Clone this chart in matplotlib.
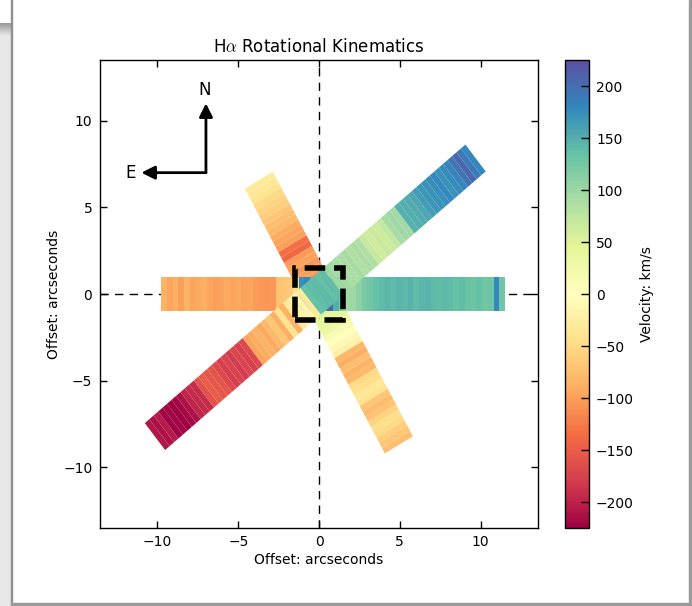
import numpy as np
import matplotlib
matplotlib.use("Agg")
import matplotlib.pyplot as plt
from matplotlib.patches import Rectangle
from matplotlib.collections import PatchCollection
from matplotlib.colors import Normalize
from matplotlib.transforms import Affine2D

plt.rcParams["mathtext.fontset"] = "cm"

# ---------------------------------------------------------------------------
# Line-of-sight velocities (km/s) in each slit, ordered along the slit axis
# ---------------------------------------------------------------------------
# E-W slit, from the east (left) end to the west (right) end
vel_ew = [-85, -95, -88, -100, -86, -95, -92, -88, -95, -100,
          -98, -92, -96, -92, -98, -95, -102, -105, -106, -104,
          -72, -70, -65, -45, 175, 178, 150, 140, 160, 205,
          150, 120, 95, 100, 110, 122, 128, 135, 140, 143,
          140, 145, 142, 146, 140, 143, 145, 140, 138, 142,
          140, 135, 138, 132, 130, 134, 128, 130, 178, 128]

# NE-SW slit, from the south-west end to the north-east end
vel_ne = [-208, -212, -205,
          -222, -220, -224, -218, -212,
          -198, -195, -192,
          -160, -150, -155, -158, -170,
          -178, -175, -180, -172, -176, -170,
          -95, -90, -85, -92,
          -80, -70, -88,
          -40, -85, -30,
          -20, -15, -30,
          135, 138, 140, 136, 138,
          100, 95, 90, 88, 92, 86, 90, 85,
          70, 62, 68, 64, 72,
          92, 98, 95,
          148, 150, 152, 155,
          165, 170, 172, 175, 178, 172, 176,
          182, 195, 205, 190, 180]

# NW-SE slit, from the south-east end to the north-west end
vel_nw = [-75, -70, -60,
          -50, -45, -55,
          -72, -78, -70,
          -40, -35, -45, -50,
          -80, -85, -75, -88, -82,
          -20, -10, 0,
          15, 30, 40, 45,
          50, 60, 70, 20,
          -100, -100, -105,
          -100, -105, -98, -102,
          -140, -135,
          -100, -95, -90,
          -80, -75, -70,
          -60, -55, -50,
          -40, -35, -30]

axis_ticks = [-10, -5, 0, 5, 10]
cbar_ticks = [-200, -150, -100, -50, 0, 50, 100, 150, 200]

# slit geometry: (angle of slit axis in degrees, start offset, end offset)
SLIT_WIDTH = 2.0
slit_layout = [
    (119.6, -10.01, 7.55, vel_nw),
    (0.0, -9.78, 11.52, vel_ew),
    (39.0, -13.07, 12.47, vel_ne),
]

W, H = 692, 606
fig = plt.figure(figsize=(W / 100, H / 100), dpi=100, facecolor="white")


def fx(px):
    return px / W


def fy(py):
    return 1 - py / H


# window frame around the plot
strip = fig.add_axes([0, 0, fx(10.5), (H - 23) / H])
grad = np.concatenate([np.linspace(0.60, 0.88, 12), np.full(571, 0.91)])
strip.imshow(grad[:, None], cmap="gray", vmin=0, vmax=1, aspect="auto",
             interpolation="bilinear")
strip.set_axis_off()
for rect in [
    Rectangle((fx(10.5), 0), fx(1.8), 1, color="#909090"),
    Rectangle((fx(689.2), 0), fx(2.8), 1, color="#9a9a9a"),
    Rectangle((fx(10.5), 0), fx(679), 3.0 / H, color="#9a9a9a"),
]:
    rect.set_transform(fig.transFigure)
    fig.add_artist(rect)

ax = fig.add_axes([fx(100), fy(528), fx(538) - fx(100), fy(60) - fy(528)])
norm = Normalize(vmin=-225, vmax=225)

# reference cross through the nucleus
ax.axhline(0, color="k", lw=1, dashes=(6, 4.5), zorder=1)
ax.axvline(0, color="k", lw=1, dashes=(6, 4.5), zorder=1)

mappable = None
for k, (angle, s0, s1, vel) in enumerate(slit_layout):
    edges = np.linspace(s0, s1, len(vel) + 1)
    rects = [Rectangle((edges[i], -SLIT_WIDTH / 2), edges[i + 1] - edges[i],
                       SLIT_WIDTH) for i in range(len(vel))]
    pc = PatchCollection(rects, cmap="Spectral", norm=norm,
                         edgecolor="none", zorder=2 + k)
    pc.set_transform(Affine2D().rotate_deg(angle) + ax.transData)
    pc.set_array(np.asarray(vel, dtype=float))
    ax.add_collection(pc)
    mappable = pc

# nuclear aperture
box = Rectangle((-1.5, -1.5), 3, 3, fill=False, ec="k", lw=4, zorder=6)
box.set_linestyle((0, (3.7, 1.6)))
ax.add_patch(box)

# compass
for tip in [(-7.0, 11.0), (-11.0, 7.0)]:
    ax.annotate("", xy=tip, xytext=(-7.0, 7.0),
                arrowprops=dict(arrowstyle="-|>", lw=2, color="k",
                                mutation_scale=20, shrinkA=0, shrinkB=0),
                zorder=7)
ax.text(-7.06, 11.75, "N", fontsize=12, ha="center", va="center")
ax.text(-11.64, 7.0, "E", fontsize=12, ha="center", va="center")

ax.set_xlim(-13.56, 13.56)
ax.set_ylim(-13.5, 13.5)
ax.set_xticks(axis_ticks)
ax.set_yticks(axis_ticks)
ax.tick_params(direction="in", length=5, width=1, top=True, right=True,
               labelsize=10)
ax.tick_params(axis="x", pad=5)
ax.tick_params(axis="y", pad=5.5)
for sp in ax.spines.values():
    sp.set_linewidth(1)
ax.set_title(r"H$\alpha$ Rotational Kinematics", fontsize=12, pad=5.5)
ax.set_xlabel("Offset: arcseconds", fontsize=10, labelpad=3)
ax.set_ylabel("Offset: arcseconds", fontsize=10, labelpad=1.5)

cax = fig.add_axes([fx(565), fy(528), fx(589) - fx(565), fy(60) - fy(528)])
cb = fig.colorbar(mappable, cax=cax, ticks=cbar_ticks)
cb.outline.set_linewidth(1)
cax.tick_params(direction="in", length=5.5, width=1, labelsize=10, pad=5)
cb.set_label("Velocity: km/s", fontsize=10, labelpad=4)

fig.savefig("out.png", dpi=100, facecolor="white")
